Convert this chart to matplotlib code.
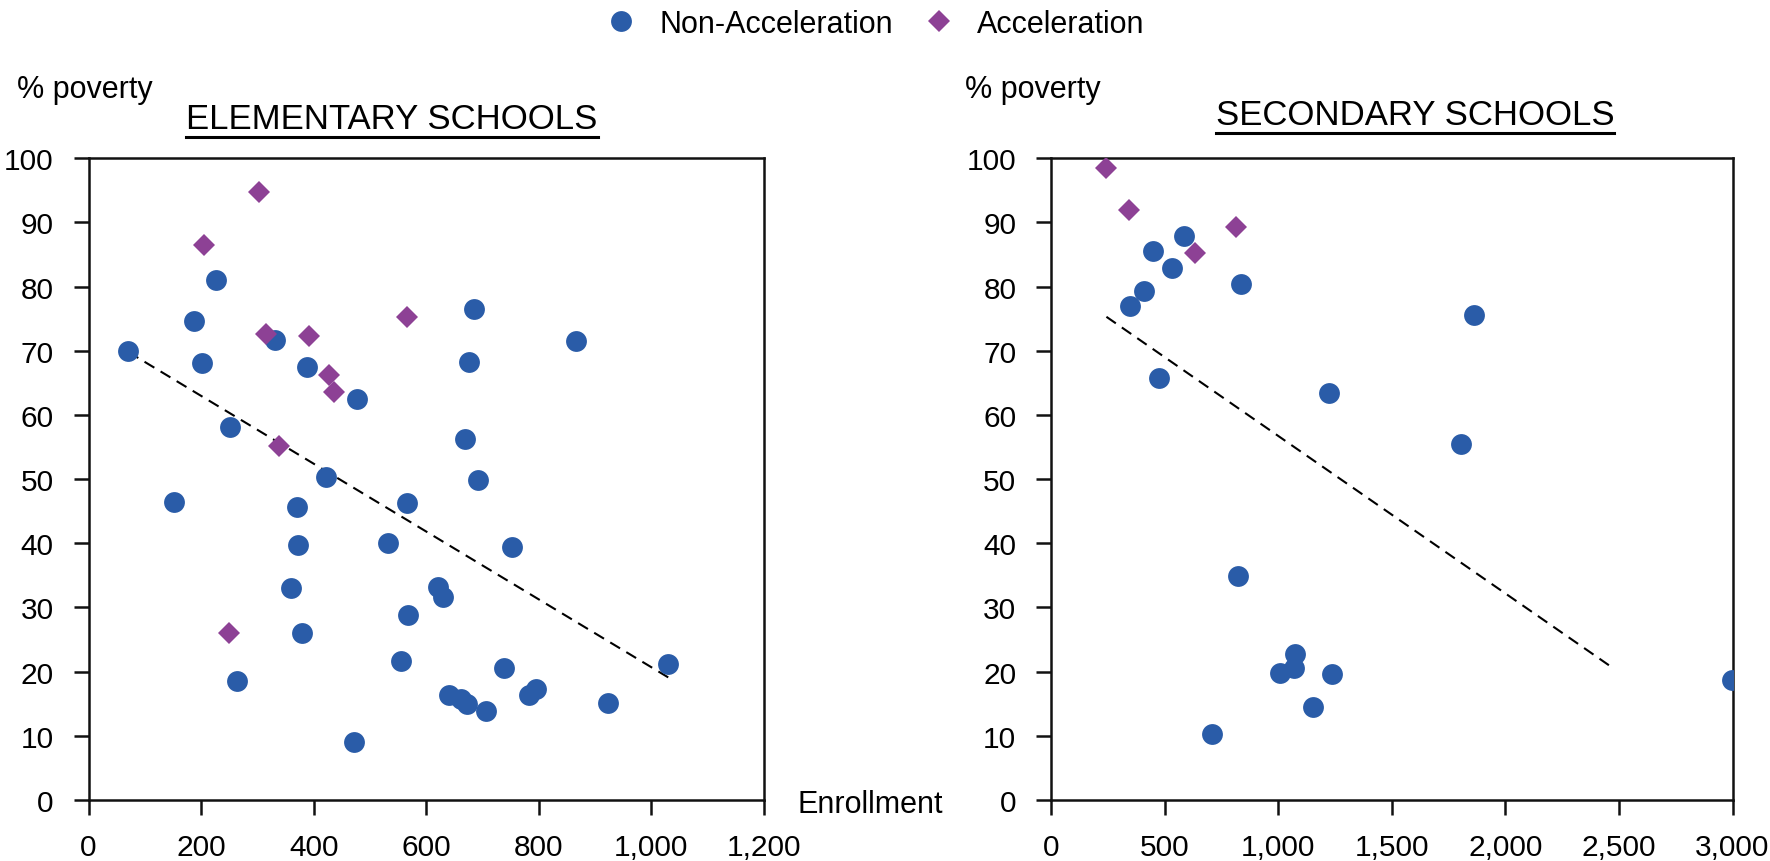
import matplotlib
matplotlib.use('Agg')
import matplotlib.pyplot as plt
from matplotlib.ticker import FuncFormatter, MultipleLocator
from matplotlib.lines import Line2D
from matplotlib import font_manager

# elementary schools
elem_non_x = [71, 188, 201, 226, 332, 389, 477, 684, 676, 866, 251,
              668, 422, 692, 151, 371, 565, 373, 532, 753, 359, 620,
              630, 567, 380, 556, 738, 1030, 264, 640, 661, 673, 707,
              782, 795, 922, 472]
elem_non_y = [70.0, 74.6, 68.1, 81.1, 71.7, 67.4, 62.5, 76.5, 68.2, 71.5, 58.1,
              56.2, 50.4, 49.8, 46.5, 45.6, 46.3, 39.7, 40.0, 39.4, 33.1, 33.2,
              31.6, 28.8, 26.1, 21.6, 20.6, 21.2, 18.5, 16.4, 15.7, 14.9, 13.9,
              16.3, 17.3, 15.1, 9.1]
elem_acc_x = [303, 205, 315, 391, 566, 427, 436, 338, 250]
elem_acc_y = [94.8, 86.5, 72.6, 72.3, 75.3, 66.2, 63.6, 55.2, 26.0]
elem_trend_x = [71, 1030]
elem_trend_y = [69.8, 19.1]

# secondary schools
sec_non_x = [450, 587, 532, 408, 346, 836, 1864, 475, 1224, 1806,
             824, 1075, 1070, 1008, 1237, 1154, 709, 2996]
sec_non_y = [85.6, 87.9, 82.9, 79.3, 77.0, 80.4, 75.6, 65.8, 63.5, 55.5,
             34.9, 22.7, 20.5, 19.8, 19.7, 14.5, 10.3, 18.7]
sec_acc_x = [244, 343, 816, 632]
sec_acc_y = [98.5, 91.9, 89.3, 85.2]
sec_trend_x = [244, 2456]
sec_trend_y = [75.3, 21.0]

BLUE = '#2A5CA8'
PURPLE = '#8D4195'

names = {f.name for f in font_manager.fontManager.ttflist}
if 'Liberation Sans Narrow' in names:
    narrow, nsize, tsize = 'Liberation Sans Narrow', 26, 26
else:
    narrow, nsize, tsize = 'Liberation Sans', 22, 21.5
plt.rcParams['font.family'] = [narrow, 'DejaVu Sans']

W, H = 1770, 862
fig = plt.figure(figsize=(W / 100, H / 100), dpi=100)
ax1 = fig.add_axes([88.5 / W, (H - 801) / H, 675.5 / W, 641.7 / H])
ax2 = fig.add_axes([1051 / W, (H - 801) / H, 681.5 / W, 641.7 / H])

comma = FuncFormatter(lambda v, p: f'{int(v):,}')

def setup(ax, xmax, xstep):
    ax.set_xlim(0, xmax)
    ax.set_ylim(0, 100)
    ax.xaxis.set_major_locator(MultipleLocator(xstep))
    ax.yaxis.set_major_locator(MultipleLocator(10))
    ax.xaxis.set_major_formatter(comma)
    for s in ax.spines.values():
        s.set_linewidth(1.8)
        s.set_color('#111111')
    ax.tick_params(axis='both', direction='out', length=11, width=1.8,
                   labelsize=tsize, color='#111111')
    ax.tick_params(axis='x', pad=13)
    ax.tick_params(axis='y', pad=14)
    ax.patch.set_visible(False)

def draw(ax, nx, ny, axx, axy, tx, ty):
    ax.plot(tx, ty, color='black', lw=1.5, ls=(0, (5.5, 3.5)), zorder=2)
    ax.plot(nx, ny, 'o', color=BLUE, ms=15, mew=0, zorder=3)
    ax.plot(axx, axy, 'D', color=PURPLE, ms=11.5, mew=0, zorder=4)

setup(ax1, 1200, 200)
setup(ax2, 3000, 500)
draw(ax1, elem_non_x, elem_non_y, elem_acc_x, elem_acc_y, elem_trend_x, elem_trend_y)
draw(ax2, sec_non_x, sec_non_y, sec_acc_x, sec_acc_y, sec_trend_x, sec_trend_y)

# axis labels placed as free text like the original
fig.text(17 / W, 1 - 90 / H, '% poverty', fontsize=nsize, va='center', ha='left')
fig.text(965 / W, 1 - 90 / H, '% poverty', fontsize=nsize, va='center', ha='left')
fig.text(797 / W, 1 - 813 / H, 'Enrollment', fontsize=nsize, va='baseline', ha='left')

# underlined titles
titles = []
titles.append(fig.text(392 / W, 1 - 129 / H, 'ELEMENTARY SCHOOLS', fontsize=25,
                       family='Liberation Sans', ha='center', va='baseline'))
titles.append(fig.text(1415 / W, 1 - 125 / H, 'SECONDARY SCHOOLS', fontsize=25,
                       family='Liberation Sans', ha='center', va='baseline'))

# legend
handles = [Line2D([], [], ls='none', marker='o', color=BLUE, ms=15, mew=0),
           Line2D([], [], ls='none', marker='D', color=PURPLE, ms=11, mew=0)]
fig.legend(handles, ['Non-Acceleration', 'Acceleration'], loc='center',
           bbox_to_anchor=(875 / W, 1 - 25 / H), ncol=2, frameon=False,
           fontsize=nsize, handlelength=1.0, handletextpad=0.75,
           columnspacing=1.0, borderpad=0, borderaxespad=0)

fig.canvas.draw()
r = fig.canvas.get_renderer()
for t in titles:
    bb = t.get_window_extent(r)
    y = bb.y0 - 2
    fig.add_artist(Line2D([bb.x0 / W, bb.x1 / W], [y / H, y / H],
                          transform=fig.transFigure, color='black', lw=2.2))

fig.savefig('out.png', dpi=100)
